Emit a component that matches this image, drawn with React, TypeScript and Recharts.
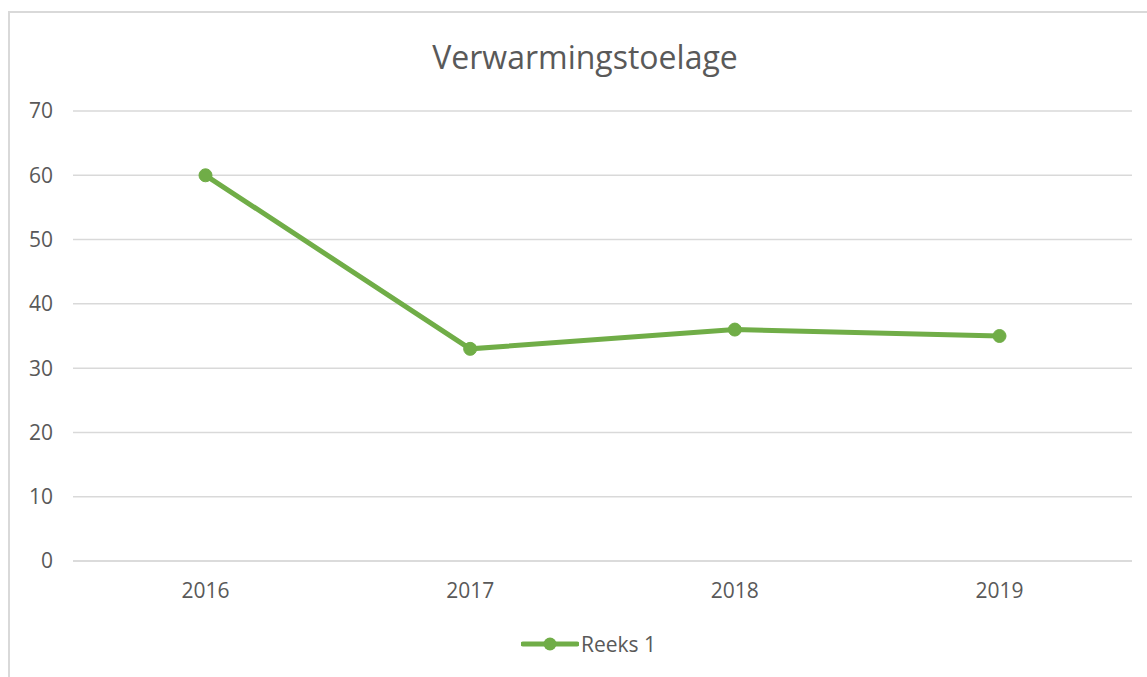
import React from 'react';
import { LineChart, Line, XAxis, YAxis, CartesianGrid } from 'recharts';

const categories = ['2016', '2017', '2018', '2019'];
const seriesValues = [60, 33, 36, 35];
const yTicks = [0, 10, 20, 30, 40, 50, 60, 70];
const seriesName = 'Reeks 1';
const title = 'Verwarmingstoelage';

const data = categories.map((c, i) => ({ year: c, value: seriesValues[i] }));

const GREEN = '#70AD47';
const FONT = '"Open Sans", sans-serif';

export default function App() {
  return (
    <div style={{ position: 'absolute', left: 0, top: 0, width: 1147, height: 677, overflow: 'hidden', background: '#fff' }}>
      <div style={{ position: 'absolute', left: 8, top: 11, width: 1160, height: 700, border: '2px solid #d9d9d9', boxSizing: 'border-box' }} />
      <div style={{ position: 'absolute', left: 0, top: 35, width: 1170, textAlign: 'center', fontFamily: FONT, fontSize: 32, color: '#595959', lineHeight: '44px' }}>
        {title}
      </div>
      <div style={{ position: 'absolute', left: 0, top: 0 }}>
        <LineChart width={1147} height={677} data={data} margin={{ top: 111, right: 15, bottom: 86, left: 0 }}>
          <CartesianGrid horizontal vertical={false} stroke="#d9d9d9" strokeWidth={1.5} />
          <XAxis dataKey="year" axisLine={{ stroke: '#d9d9d9', strokeWidth: 1.5 }} tickLine={false} tickMargin={16}
            padding={{ left: 132.5, right: 132.5 }}
            tick={{ fill: '#595959', fontSize: 21, fontFamily: FONT }} />
          <YAxis domain={[0, 70]} ticks={yTicks} width={73} axisLine={false} tickLine={false} tickMargin={14}
            tick={{ fill: '#595959', fontSize: 21, fontFamily: FONT }} />
          <Line type="linear" dataKey="value" name={seriesName} stroke={GREEN} strokeWidth={5}
            dot={{ r: 6.5, fill: GREEN, stroke: GREEN, strokeWidth: 1 }} activeDot={false} isAnimationActive={false} />
        </LineChart>
      </div>
      <div style={{ position: 'absolute', left: 0, top: 630, width: 1147, display: 'flex', justifyContent: 'center', alignItems: 'center', fontFamily: FONT, fontSize: 21, color: '#595959' }}>
        <svg width={58} height={16} style={{ marginLeft: 30 }}>
          <line x1={2} y1={8} x2={56} y2={8} stroke={GREEN} strokeWidth={5} strokeLinecap="round" />
          <circle cx={29} cy={8} r={6.5} fill={GREEN} />
        </svg>
        <span style={{ marginLeft: 2 }}>{seriesName}</span>
      </div>
    </div>
  );
}
